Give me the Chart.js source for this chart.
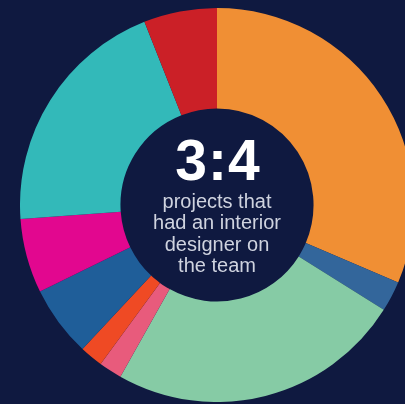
<!DOCTYPE html>
<html>
<head>
<meta charset="utf-8">
<script src="https://cdn.jsdelivr.net/npm/chart.js@4"></script>
<style>
  html, body { margin: 0; padding: 0; width: 405px; height: 404px; overflow: hidden; background: #0f1940; }
  #wrap { position: absolute; left: 20px; top: 8px; width: 394px; height: 394px; }
</style>
</head>
<body>
<div id="wrap"><canvas id="c"></canvas></div>
<script>
const categories = ["Segment A", "Segment B", "Segment C", "Segment D", "Segment E", "Segment F", "Segment G", "Segment H", "Segment I"];
const shares = [31.4, 2.5, 24.2, 1.9, 1.9, 5.8, 6.1, 20.1, 6.0];
const sliceColors = ["#f08f34", "#33669b", "#86cba5", "#e85b7c", "#ef4a24", "#1f5e99", "#e2078f", "#33b9b9", "#cb2027"];
const centerTitle = "3:4";
const centerLines = ["projects that", "had an interior", "designer on", "the team"];

const centerText = {
  id: "centerText",
  afterDraw(chart) {
    const ctx = chart.ctx;
    const a = chart.chartArea;
    const cx = (a.left + a.right) / 2;
    const cy = (a.top + a.bottom) / 2;
    ctx.save();
    ctx.textAlign = "center";
    ctx.fillStyle = "#ffffff";
    ctx.textBaseline = "alphabetic";
    ctx.font = "bold 57px 'Liberation Sans', Arial, sans-serif";
    if ("letterSpacing" in ctx) ctx.letterSpacing = "1px";
    ctx.fillText(centerTitle, cx + 1, cy - 25);
    if ("letterSpacing" in ctx) ctx.letterSpacing = "0px";
    ctx.fillStyle = "#cfd3df";
    ctx.textBaseline = "middle";
    ctx.font = "300 20px 'Liberation Sans', Arial, sans-serif";
    centerLines.forEach((t, i) => ctx.fillText(t, cx, cy - 3 + i * 21.5));
    ctx.restore();
  }
};

new Chart(document.getElementById("c"), {
  type: "doughnut",
  data: {
    labels: categories,
    datasets: [{ data: shares, backgroundColor: sliceColors, borderWidth: 0 }]
  },
  options: {
    responsive: true,
    maintainAspectRatio: false,
    animation: false,
    cutout: "49%",
    layout: { padding: 0 },
    plugins: { legend: { display: false }, tooltip: { enabled: false } }
  },
  plugins: [centerText]
});
</script>
</body>
</html>
